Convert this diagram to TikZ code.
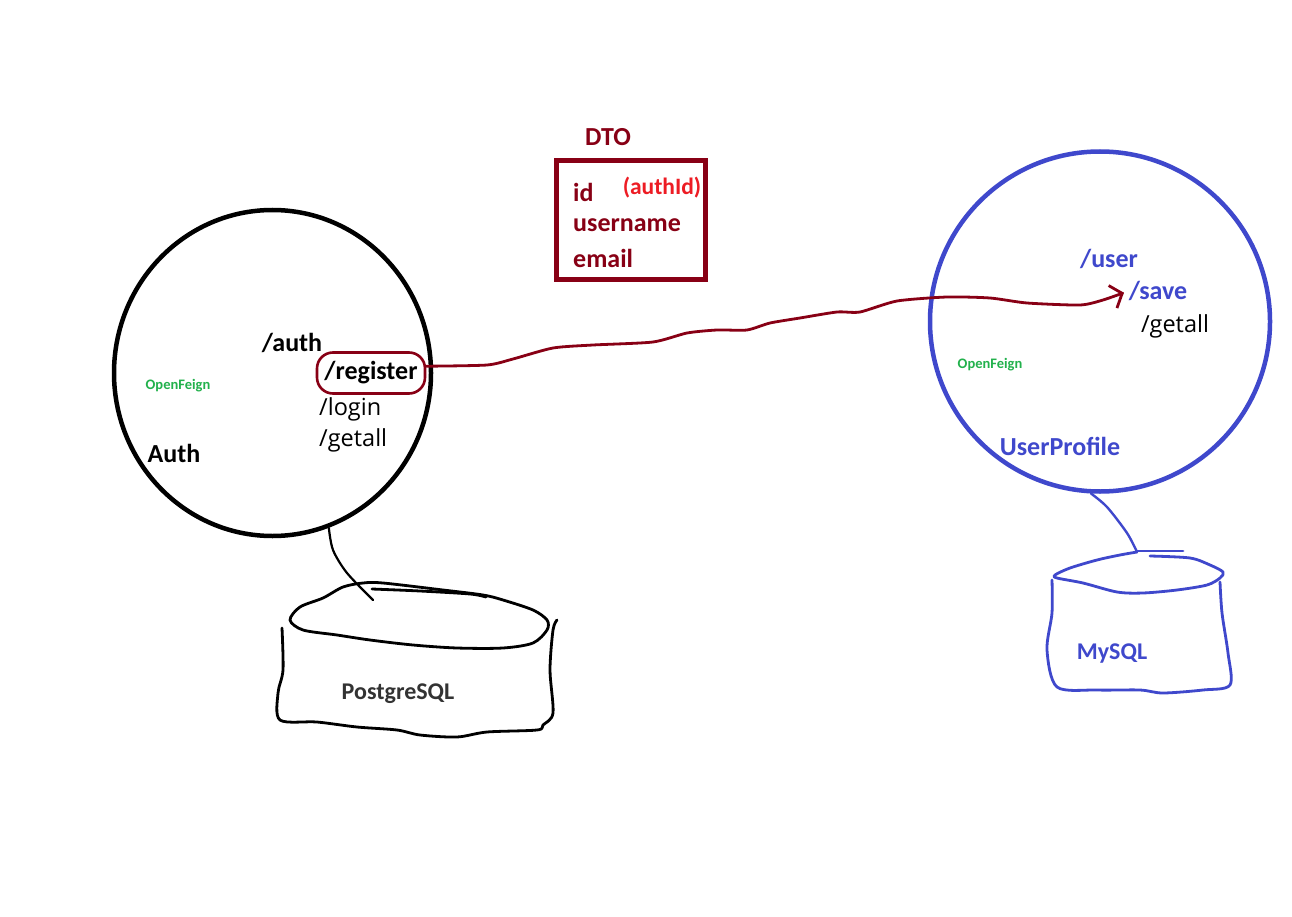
\documentclass[tikz,border=0pt]{standalone}
\usepackage{fontspec}
\setmainfont{Carlito}
\newfontfamily\segoe{Open Sans}
\usetikzlibrary{arrows.meta,shapes.geometric}
\definecolor{pdarkred}{HTML}{880015}
\definecolor{pred}{HTML}{ED1C24}
\definecolor{pblue}{HTML}{3F48CC}
\definecolor{pgreen}{HTML}{22B14C}
\newcommand{\bsize}{\fontsize{26}{29}\selectfont\bfseries}
\newcommand{\rsize}{\fontsize{23.5}{27}\selectfont\segoe}

\begin{document}
\begin{tikzpicture}[x=1pt,y=-1pt,
	bold/.style={inner sep=0pt, font=\bsize},
	plain/.style={inner sep=0pt, font=\rsize},
	feign/.style={inner sep=0pt, text=pgreen, font=\fontsize{14.5}{16}\selectfont\bfseries},
	service/.style={draw, line width=4.5pt},
	hand/.style={line width=2.8pt, line cap=round, line join=round},
	flow/.style={hand, pdarkred, -{Straight Barb[length=10pt,width=24pt]}, shorten >=5pt}]
	\useasboundingbox[fill=white] (0,0) rectangle (1292,917);

	% Auth service
	\node[service, ellipse, minimum width=317pt, minimum height=326pt] (auth) at (272.5,373) {};
	\node[bold] (authpath) at (292,343) {/auth};
	\node[bold, draw=pdarkred, line width=2.6pt, rounded corners=16pt, minimum width=108pt, minimum height=41pt] (reg) at (371,373) {/register};
	\node[plain, anchor=west] (login) at (319,409) {/login};
	\node[plain, anchor=west] (authall) at (319,440) {/getall};
	\node[feign] (feignl) at (178,386) {OpenFeign};
	\node[bold] (authname) at (174,453) {Auth};

	% DTO
	\node[bold, text=pdarkred] (dtotitle) at (608,137) {DTO};
	\node[draw=pdarkred, line width=5pt, minimum width=149pt, minimum height=119pt] (dto) at (631,220) {};
	\node[bold, text=pdarkred, anchor=west] (dtoid) at (573,192) {id};
	\node[bold, text=pred, font=\fontsize{23.5}{26}\selectfont\bfseries] (dtoauthid) at (662,188) {(authId)};
	\node[bold, text=pdarkred, anchor=west] (dtouser) at (573,225) {username};
	\node[bold, text=pdarkred, anchor=west] (dtomail) at (573,258) {email};

	% UserProfile service
	\node[service, draw=pblue, circle, minimum size=340pt, inner sep=0pt] (up) at (1100,321.5) {};
	\node[bold, text=pblue] (userpath) at (1109,259) {/user};
	\node[bold, text=pblue] (save) at (1158,291) {/save};
	\node[plain] (upall) at (1175,326) {/getall};
	\node[feign] (feignr) at (990,365) {OpenFeign};
	\node[bold, text=pblue] (upname) at (1060,446) {UserProfile};

	% PostgreSQL
	\draw[hand] plot[smooth cycle, tension=0.5] coordinates {(290,620) (300,607) (323,598) (343,587) (363,583) (383,583) (443,590) (483,595) (503,600) (533,610) (547,620) (547,630) (533,643) (503,648) (457,648) (413,645) (370,640) (337,635) (303,630)};
	\draw[hand] plot[smooth, tension=0.5] coordinates {(372,589) (420,591) (470,594) (486,597)};
	\draw[hand] plot[smooth, tension=0.5] coordinates {(282,628) (283,670) (278,693) (280,720) (317,722) (357,727) (397,730) (420,735) (457,737) (487,732) (537,730) (543,725) (553,713) (550,670) (553,630) (557,620)};
	\node[inner sep=0pt, text=black!80, font=\fontsize{24}{27}\selectfont\bfseries] (pg) at (398,694) {PostgreSQL};
	\coordinate (pgtop) at (373,600);

	% MySQL
	\draw[hand, pblue] plot[smooth, tension=0.5] coordinates {(1137,552) (1120,555) (1097,560) (1070,568) (1055,575) (1057,578) (1083,583) (1117,592) (1143,593) (1177,590) (1207,585) (1220,578) (1223,572) (1210,565) (1190,558) (1150,556)};
	\draw[hand, pblue] (1137,551) -- (1183,551);
	\draw[hand, pblue] plot[smooth, tension=0.5] coordinates {(1052,580) (1052,613) (1047,650) (1057,687) (1097,690) (1140,690) (1163,693) (1203,690) (1230,685) (1228,653) (1222,613) (1220,582)};
	\node[inner sep=0pt, text=pblue, font=\fontsize{24}{27}\selectfont\bfseries] (my) at (1112,654) {MySQL};
	\coordinate (mytop) at (1137,552);

	% links
	\draw[hand, line width=2.2pt] plot[smooth, tension=0.5] coordinates {(auth.-70) (333,550) (347,573) (pgtop)};
	\draw[hand, pblue, line width=2.4pt] plot[smooth, tension=0.5] coordinates {(up.-93) (1107,507) (1127,533) (mytop)};
	\draw[flow] plot[smooth, tension=0.4] coordinates {(reg.7) (487,365) (513,359) (553,348) (593,345) (653,342) (687,333) (717,330) (747,330) (770,323) (800,318) (837,312) (860,312) (897,301) (947,297) (990,298) (1027,303) (1080,305) (1103,300) (save.west)};
\end{tikzpicture}
\end{document}
